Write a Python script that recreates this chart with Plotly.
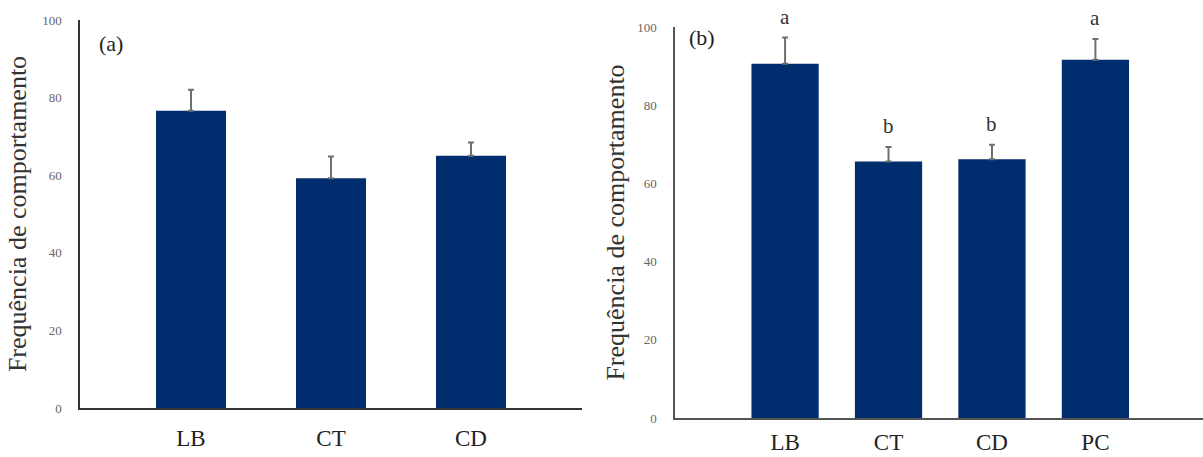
import plotly.graph_objects as go

W, H = 1203, 457

# Panel (a)
cats_a = ["LB", "CT", "CD"]
vals_a = [76.6, 59.2, 65.0]
errs_a = [5.4, 5.6, 3.4]

# Panel (b)
cats_b = ["LB", "CT", "CD", "PC"]
vals_b = [90.6, 65.6, 66.2, 91.6]
errs_b = [6.7, 3.7, 3.7, 5.3]
letters_b = ["a", "b", "b", "a"]

y_ticks = [0, 20, 40, 60, 80, 100]
y_title = "Frequência de comportamento"

BAR = "#002D6E"
ERR = "#6f6f6f"
FONT = "Liberation Serif"

fig = go.Figure()

fig.add_trace(go.Bar(
    x=cats_a, y=vals_a, width=0.5, marker=dict(color=BAR, line=dict(width=0)),
    error_y=dict(type="data", array=errs_a, arrayminus=[0] * len(errs_a), symmetric=False,
                 color=ERR, thickness=2, width=3),
    xaxis="x", yaxis="y", showlegend=False))

fig.add_trace(go.Bar(
    x=cats_b, y=vals_b, width=0.65, marker=dict(color=BAR, line=dict(width=0)),
    error_y=dict(type="data", array=errs_b, arrayminus=[0] * len(errs_b), symmetric=False,
                 color=ERR, thickness=2, width=3),
    xaxis="x2", yaxis="y2", showlegend=False))

annotations = []
for c, v, e, t in zip(cats_b, vals_b, errs_b, letters_b):
    annotations.append(dict(x=c, y=v + e, xref="x2", yref="y2", text=t, showarrow=False,
                            yanchor="middle", yshift=21,
                            font=dict(family=FONT, size=21, color="#333")))
annotations.append(dict(x=97 / W, y=1 - 43 / H, xref="paper", yref="paper", text="(a)",
                        showarrow=False, xanchor="left", yanchor="middle",
                        font=dict(family=FONT, size=22, color="#222")))
annotations.append(dict(x=687 / W, y=1 - 38 / H, xref="paper", yref="paper", text="(b)",
                        showarrow=False, xanchor="left", yanchor="middle",
                        font=dict(family=FONT, size=22, color="#222")))

xaxis_common = dict(showgrid=False, zeroline=False, showline=True, linewidth=1.5,
                    automargin=False,
                    ticks="outside", ticklen=9, tickcolor="rgba(0,0,0,0)",
                    tickfont=dict(family=FONT, size=23, color="#222"))
yaxis_common = dict(showgrid=False, zeroline=False, showline=True, linewidth=1.5,
                    automargin=False,
                    range=[0, 100], tickvals=y_ticks,
                    ticks="outside", ticklen=14, tickcolor="rgba(0,0,0,0)",
                    tickfont=dict(family=FONT, size=13, color="#666"),
                    title=dict(text=y_title, standoff=8,
                               font=dict(family=FONT, size=26, color="#333")))

fig.update_layout(
    width=W, height=H,
    margin=dict(l=0, r=0, t=0, b=0),
    paper_bgcolor="white", plot_bgcolor="white",
    bargap=0.3,
    xaxis=dict(domain=[80 / W, 582 / W], range=[-0.793, 2.793], anchor="y",
               linecolor="#333", **xaxis_common),
    yaxis=dict(domain=[1 - 408 / H, 1 - 20 / H], anchor="x", linecolor="#333", **yaxis_common),
    xaxis2=dict(domain=[675 / W, 1.0], range=[-1.064, 4.04], anchor="y2",
                linecolor="#555", **{**xaxis_common, "ticklen": 3}),
    yaxis2=dict(domain=[1 - 418 / H, 1 - 27 / H], anchor="x2", linecolor="#555",
                **{**yaxis_common, "title": dict(text=y_title, standoff=5,
                                                 font=dict(family=FONT, size=26, color="#333"))}),
    annotations=annotations,
)

fig.write_html("out.html", config={"displayModeBar": False},
               post_script="document.body.style.margin='0';document.body.style.overflow='hidden';")
